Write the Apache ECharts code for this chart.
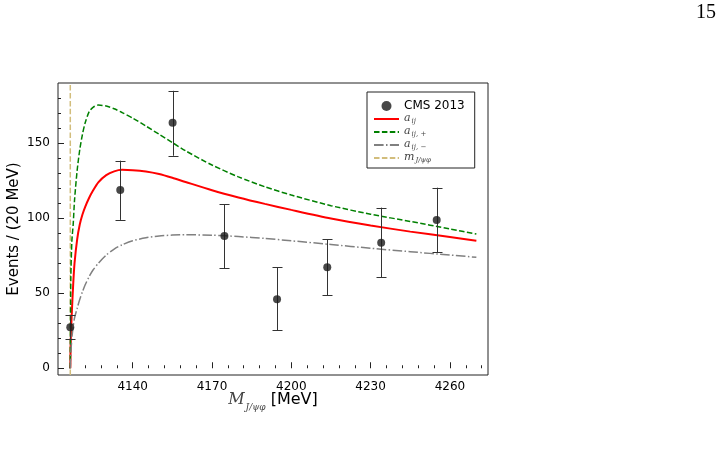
<!DOCTYPE html>
<html>
<head>
<meta charset="utf-8">
<script src="https://cdn.jsdelivr.net/npm/echarts@6/dist/echarts.min.js"></script>
<style>html,body{margin:0;padding:0;background:#fff}#c{width:722px;height:462px}</style>
</head>
<body>
<div id="c"></div>
<script>
// ---- data ----
const pointMass = [4116.4, 4135.3, 4155.1, 4174.7, 4194.6, 4213.6, 4234.0, 4255.0];
const pointEvents = [27.3, 118.9, 163.7, 88.2, 46.0, 67.3, 83.7, 98.9];
const errLow = [19.3, 98.9, 141.7, 66.7, 25.3, 48.7, 60.7, 77.3];
const errHigh = [35.5, 138.4, 185.0, 109.5, 67.3, 86.0, 107.1, 120.4];

const curveMass = [4116.4, 4116.6, 4117, 4117.5, 4118, 4119, 4120, 4121, 4122, 4123.5, 4125, 4127, 4130, 4133, 4136, 4140, 4145, 4150, 4155, 4160, 4170, 4180, 4190, 4200, 4215, 4230, 4245, 4260, 4270];
const curveA = [0, 20, 38, 56, 70, 86, 96, 102.5, 107.5, 113.5, 118.5, 124, 128.8, 131.3, 132.3, 132.1, 131.2, 129.5, 127, 124.2, 118.7, 113.9, 109.6, 105.6, 99.9, 95.2, 91.1, 87.5, 85];
const curvePlus = [0, 60, 85, 96, 112, 132, 146, 156, 163.5, 171, 174, 175.5, 174.8, 173, 170.5, 166.8, 161.5, 156, 150.5, 145, 135.5, 127.6, 121, 115.5, 108.4, 102.7, 97.9, 92.9, 89.5];
const curveMinus = [0, 10, 20, 28, 33.5, 40, 46, 51, 55.5, 61, 65.5, 70, 75.5, 79.5, 82.3, 85, 87, 88.2, 88.8, 89, 88.7, 87.8, 86.6, 85, 82.5, 80, 77.7, 75.5, 74];
const thresholdMass = 4116.4;

const xLabels = [4140, 4170, 4200, 4230, 4260];
const yLabels = [0, 50, 100, 150];
const xMinor = [4116, 4122, 4128, 4134, 4146, 4152, 4158, 4164, 4176, 4182, 4188, 4194, 4206, 4212, 4218, 4224, 4236, 4242, 4248, 4254, 4266, 4272];
const yMinor = [10, 20, 30, 40, 60, 70, 80, 90, 110, 120, 130, 140, 160, 170, 180];

const names = ['CMS 2013', 'a_ij', 'a_ij+', 'a_ij-', 'm_Jpsiphi'];
const legendText = {
  'CMS 2013': '{n|CMS 2013}',
  'a_ij': '{i|a}{s|ij}',
  'a_ij+': '{i|a}{s|ij, +}',
  'a_ij-': '{i|a}{s|ij, −}',
  'm_Jpsiphi': '{i|m}{s|J/ψφ}'
};

const X_MIN = 4111.75, X_MAX = 4274.4, Y_MIN = -4.5, Y_MAX = 190.2;
const zip = (a, b) => a.map((v, i) => [v, b[i]]);

const chart = echarts.init(document.getElementById('c'), null, {renderer: 'canvas'});
const axisCol = '#222';
const option = {
  animation: false,
  backgroundColor: '#fff',
  grid: {left: 58, right: 234, top: 83, bottom: 87, show: true, borderColor: axisCol, borderWidth: 1,
         backgroundColor: 'transparent', containLabel: false, outerBoundsMode: 'none'},
  xAxis: [{
    type: 'value', min: X_MIN, max: X_MAX,
    axisLine: {show: false}, splitLine: {show: false},
    axisTick: {show: true, inside: true, length: 6, customValues: xLabels, lineStyle: {color: axisCol}},
    axisLabel: {customValues: xLabels, formatter: v => String(v), color: '#000', fontFamily: 'DejaVu Sans', fontSize: 12, margin: 6},
    name: '{M|M}{sub|J/ψφ}{t| [MeV]}', nameLocation: 'middle', nameGap: 17, nameMoveOverlap: false,
    nameTextStyle: {
      rich: {
        M: {fontFamily: 'DejaVu Serif', fontStyle: 'italic', fontSize: 16, color: '#444', lineHeight: 8, verticalAlign: 'top'},
        sub: {fontFamily: 'DejaVu Serif', fontStyle: 'italic', fontSize: 9, color: '#444', lineHeight: 20, verticalAlign: 'bottom', padding: [0, 0, 0, 1]},
        t: {fontFamily: 'DejaVu Sans', fontSize: 16, color: '#000', lineHeight: 8, verticalAlign: 'top'}
      }
    }
  }, {
    type: 'value', min: X_MIN, max: X_MAX, position: 'bottom',
    axisLine: {show: false}, splitLine: {show: false}, axisLabel: {show: false},
    axisTick: {show: true, inside: true, length: 3, customValues: xMinor, lineStyle: {color: axisCol}}
  }],
  yAxis: [{
    type: 'value', min: Y_MIN, max: Y_MAX,
    axisLine: {show: false}, splitLine: {show: false},
    axisTick: {show: true, inside: true, length: 6, customValues: yLabels, lineStyle: {color: axisCol}},
    axisLabel: {customValues: yLabels, color: '#000', fontFamily: 'DejaVu Sans', fontSize: 12, margin: 8},
    name: 'Events / (20 MeV)', nameLocation: 'middle', nameGap: 36, nameMoveOverlap: false,
    nameTextStyle: {fontFamily: 'DejaVu Sans', fontSize: 15, color: '#000'}
  }, {
    type: 'value', min: Y_MIN, max: Y_MAX, position: 'left',
    axisLine: {show: false}, splitLine: {show: false}, axisLabel: {show: false},
    axisTick: {show: true, inside: true, length: 3, customValues: yMinor, lineStyle: {color: axisCol}}
  }],
  legend: {
    data: names.map((n, i) => i === 0 ? {name: n} : {name: n, itemStyle: {opacity: 0}}),
    orient: 'vertical', left: 367, top: 92,
    padding: [8, 10, 4, 6], itemGap: 1, itemWidth: 25, itemHeight: 10,
    backgroundColor: '#fff', borderColor: '#222', borderWidth: 1, borderRadius: 0,
    formatter: n => legendText[n],
    textStyle: {
      fontFamily: 'DejaVu Sans', fontSize: 12, color: '#000',
      rich: {
        n: {fontFamily: 'DejaVu Sans', fontSize: 12, color: '#000', lineHeight: 12},
        i: {fontFamily: 'DejaVu Serif', fontStyle: 'italic', fontSize: 11, color: '#444', lineHeight: 4, verticalAlign: 'top'},
        s: {fontFamily: 'DejaVu Serif', fontStyle: 'italic', fontSize: 7, color: '#444', lineHeight: 12, verticalAlign: 'bottom', padding: [0, 0, 0, 1]}
      }
    }
  },
  series: [
    {
      name: 'CMS 2013', type: 'scatter', data: zip(pointMass, pointEvents),
      symbol: 'circle', symbolSize: 8, itemStyle: {color: '#1a1a1a'}, z: 5
    },
    {
      name: 'a_ij', type: 'line', data: zip(curveMass, curveA), smooth: 0.25,
      symbol: 'none', lineStyle: {color: '#ff0000', width: 2}, itemStyle: {color: '#ff0000'}, z: 3
    },
    {
      name: 'a_ij+', type: 'line', data: zip(curveMass, curvePlus), smooth: 0.25,
      symbol: 'none', lineStyle: {color: '#008000', width: 1.5, type: [5.5, 2.4]}, itemStyle: {color: '#008000'}, z: 3
    },
    {
      name: 'a_ij-', type: 'line', data: zip(curveMass, curveMinus), smooth: 0.25,
      symbol: 'none', lineStyle: {color: '#808080', width: 1.5, type: [9.6, 2.4, 1.5, 2.4]}, itemStyle: {color: '#808080'}, z: 3
    },
    {
      name: 'm_Jpsiphi', type: 'line', data: [[thresholdMass, Y_MIN], [thresholdMass, Y_MAX]],
      symbol: 'none', lineStyle: {color: '#d2bd7c', width: 1.5, type: [5.5, 2.4]}, itemStyle: {color: '#d2bd7c'}, z: 2
    },
    {
      name: 'err', type: 'custom', data: pointMass.map((m, i) => [m, errLow[i], errHigh[i]]),
      z: 4,
      renderItem: function (params, api) {
        const x = api.value(0);
        const a = api.coord([x, api.value(1)]);
        const b = api.coord([x, api.value(2)]);
        const cx = Math.round(a[0]) + 0.5;
        const st = {stroke: '#333', lineWidth: 1};
        return {type: 'group', children: [
          {type: 'line', shape: {x1: cx, y1: a[1], x2: cx, y2: b[1]}, style: st},
          {type: 'line', shape: {x1: cx - 5, y1: Math.round(a[1]) + 0.5, x2: cx + 5, y2: Math.round(a[1]) + 0.5}, style: st},
          {type: 'line', shape: {x1: cx - 5, y1: Math.round(b[1]) + 0.5, x2: cx + 5, y2: Math.round(b[1]) + 0.5}, style: st}
        ]};
      }
    }
  ],
  graphic: [{
    type: 'text', right: 6, top: 3,
    style: {text: '15', fontFamily: 'Liberation Serif', fontSize: 20, fill: '#000'}
  }]
};
chart.setOption(option);
</script>
</body>
</html>
